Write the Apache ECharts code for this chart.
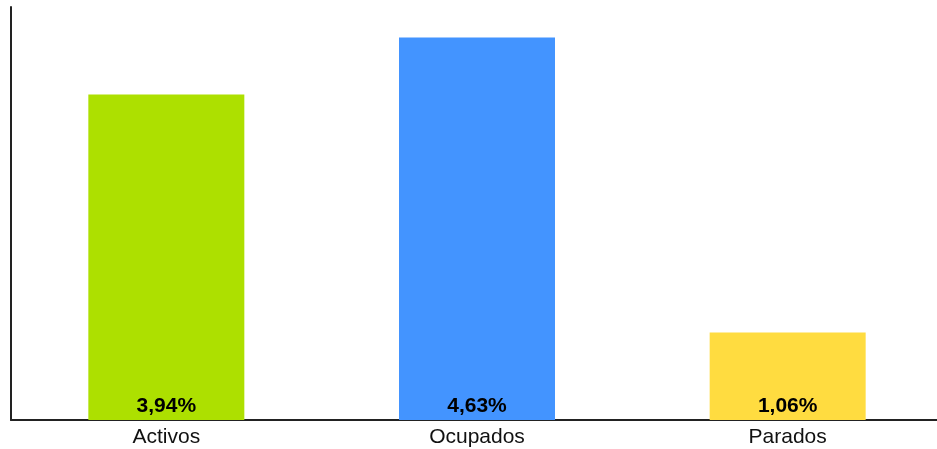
<!DOCTYPE html>
<html>
<head>
<meta charset="utf-8">
<script src="https://cdn.jsdelivr.net/npm/echarts@6/dist/echarts.min.js"></script>
<style>html,body{margin:0;padding:0;background:#fff;overflow:hidden;width:937px;height:449px}#c{width:945px;height:449px}</style>
</head>
<body>
<div id="c"></div>
<script>
const categories = ['Activos', 'Ocupados', 'Parados'];
const values = [3.94, 4.63, 1.06];
const colors = ['#ADE000', '#4394FF', '#FFDC40'];

const chart = echarts.init(document.getElementById('c'));
chart.setOption({
  animation: false,
  grid: { left: 11, width: 932, top: 7, bottom: 29, containLabel: false },
  xAxis: {
    type: 'category',
    data: categories,
    axisLine: { lineStyle: { color: '#222', width: 2 } },
    axisTick: { show: false },
    axisLabel: { color: '#111', fontSize: 21, fontFamily: 'Liberation Sans, Arial', margin: 7 }
  },
  yAxis: {
    type: 'value',
    min: 0, max: 5,
    axisLine: { show: true, lineStyle: { color: '#222', width: 2 } },
    axisTick: { show: false },
    axisLabel: { show: false },
    splitLine: { show: false }
  },
  series: [{
    type: 'bar',
    barWidth: 156,
    data: values.map((v, i) => ({ value: v, itemStyle: { color: colors[i] } })),
    label: {
      show: true,
      position: 'insideBottom',
      distance: 3,
      color: '#000',
      fontWeight: 'bold',
      fontSize: 21,
      fontFamily: 'Liberation Sans, Arial',
      formatter: p => p.value.toFixed(2).replace('.', ',') + '%'
    }
  }]
});
</script>
</body>
</html>
